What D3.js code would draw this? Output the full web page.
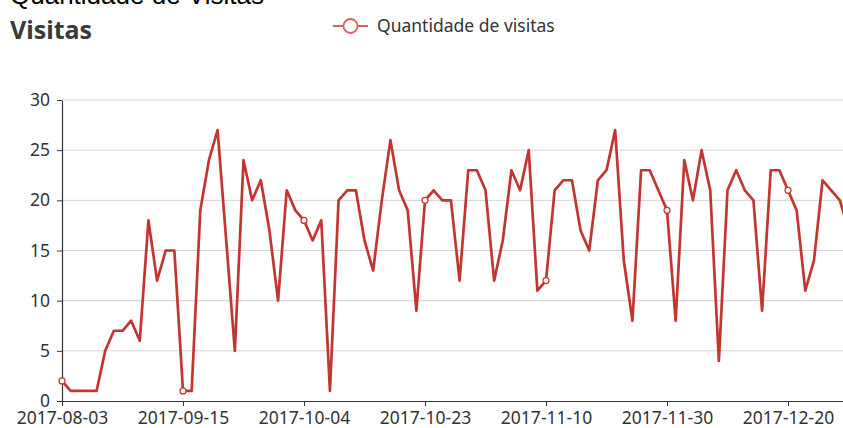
<!DOCTYPE html>
<html>
<head>
<meta charset="utf-8">
<script src="https://cdn.jsdelivr.net/npm/d3@7"></script>
<style>
  body { margin: 0; background: #fff; overflow: hidden; }
  svg { display: block; }
</style>
</head>
<body>
<div id="chart"></div>
<script>
// --- Data ---
const dates = [
  "2017-08-03","2017-08-04","2017-08-07","2017-08-09","2017-08-11","2017-08-16","2017-08-18","2017-08-22",
  "2017-08-24","2017-08-28","2017-08-30","2017-09-01","2017-09-05","2017-09-11","2017-09-15","2017-09-16",
  "2017-09-18","2017-09-19","2017-09-20","2017-09-21","2017-09-22","2017-09-23","2017-09-25","2017-09-26",
  "2017-09-27","2017-09-28","2017-09-29","2017-10-02","2017-10-04","2017-10-05","2017-10-06","2017-10-07",
  "2017-10-09","2017-10-10","2017-10-11","2017-10-12","2017-10-13","2017-10-16","2017-10-17","2017-10-18",
  "2017-10-19","2017-10-20","2017-10-23","2017-10-24","2017-10-25","2017-10-26","2017-10-27","2017-10-28",
  "2017-10-30","2017-10-31","2017-11-01","2017-11-02","2017-11-03","2017-11-06","2017-11-07","2017-11-08",
  "2017-11-10","2017-11-13","2017-11-14","2017-11-15","2017-11-16","2017-11-17","2017-11-18","2017-11-20",
  "2017-11-21","2017-11-22","2017-11-23","2017-11-24","2017-11-27","2017-11-28","2017-11-30","2017-12-01",
  "2017-12-02","2017-12-04","2017-12-05","2017-12-06","2017-12-07","2017-12-08","2017-12-11","2017-12-12",
  "2017-12-13","2017-12-14","2017-12-15","2017-12-18","2017-12-20","2017-12-21","2017-12-22","2017-12-26",
  "2017-12-27","2017-12-28","2017-12-29","2017-12-30"
];
const visitas = [
  2,1,1,1,1,5,7,7,8,6,
  18,12,15,15,1,1,19,24,27,16,
  5,24,20,22,17,10,21,19,18,16,
  18,1,20,21,21,16,13,20,26,21,
  19,9,20,21,20,20,12,23,23,21,
  12,16,23,21,25,11,12,21,22,22,
  17,15,22,23,27,14,8,23,23,21,
  19,8,24,20,25,21,4,21,23,21,
  20,9,23,23,21,19,11,14,22,21,
  20,17
];
const xTickLabels = ["2017-08-03","2017-09-15","2017-10-04","2017-10-23","2017-11-10","2017-11-30","2017-12-20"];
const yTicks = [0, 5, 10, 15, 20, 25, 30];

const pageTitle = "Quantidade de Visitas";
const chartTitle = "Visitas";
const seriesName = "Quantidade de visitas";

// --- Layout ---
const W = 843, H = 428;
const margin = {left: 62, top: 100, bottom: 27};
const step = 8.643; // category spacing; chart continues past the right edge
const lineColor = "#c23531";
const font = "'Noto Sans', sans-serif";

const svg = d3.select("#chart").append("svg")
    .attr("width", W)
    .attr("height", H);

// Scales
const x = d3.scalePoint()
    .domain(dates)
    .range([margin.left, margin.left + step * (dates.length - 1)]);

const y = d3.scaleLinear()
    .domain([0, 30])
    .range([H - margin.bottom, margin.top]);

// Titles
svg.append("text")
    .attr("x", 10).attr("y", 4)
    .style("font-family", "'Liberation Sans', Arial, sans-serif")
    .style("font-size", "26px")
    .attr("fill", "#000")
    .text(pageTitle);

svg.append("text")
    .attr("x", 10).attr("y", 39)
    .style("font-family", font)
    .style("font-size", "25px")
    .style("font-weight", "bold")
    .attr("fill", "#3a3a3a")
    .text(chartTitle);

// Legend
const legend = svg.append("g").attr("transform", "translate(333,26)");
legend.append("line")
    .attr("x1", 0).attr("x2", 35)
    .attr("stroke", "#d9605c").attr("stroke-width", 2);
legend.append("circle")
    .attr("cx", 17.5).attr("r", 7)
    .attr("fill", "#fff").attr("stroke", "#d9605c").attr("stroke-width", 1.8);
legend.append("text")
    .attr("x", 44).attr("dy", "0.35em")
    .style("font-family", font)
    .style("font-size", "17.5px")
    .attr("fill", "#333")
    .text(seriesName);

// Grid lines
svg.append("g")
  .selectAll("line")
  .data(yTicks.filter(d => d > 0))
  .enter().append("line")
    .attr("x1", margin.left).attr("x2", W)
    .attr("y1", d => y(d)).attr("y2", d => y(d))
    .attr("stroke", "#d3d3d3").attr("stroke-width", 1);

// Axes
const yAxis = d3.axisLeft(y).tickValues(yTicks).tickSizeInner(5).tickSizeOuter(0).tickPadding(7);
const gy = svg.append("g")
    .attr("transform", `translate(${margin.left},0)`)
    .call(yAxis);

const xAxis = d3.axisBottom(x).tickValues(xTickLabels).tickSizeInner(5).tickSizeOuter(0).tickPadding(6);
const gx = svg.append("g")
    .attr("transform", `translate(0,${y(0)})`)
    .call(xAxis);
gx.select(".domain").attr("d", `M${margin.left},0.5H${W}`);

[gx, gy].forEach(g => {
  g.select(".domain").attr("stroke", "#333").attr("stroke-width", 1.2);
  g.selectAll(".tick line").attr("stroke", "#333");
  g.selectAll(".tick text")
    .attr("fill", "#333")
    .style("font-family", font)
    .style("font-size", "17.5px");
});

// Line
const line = d3.line()
    .x((d, i) => x(dates[i]))
    .y(d => y(d));

svg.append("path")
    .datum(visitas)
    .attr("fill", "none")
    .attr("stroke", lineColor)
    .attr("stroke-width", 2.7)
    .attr("stroke-linejoin", "round")
    .attr("d", line);

// Symbols shown only at labelled categories
svg.append("g")
  .selectAll("circle")
  .data(dates.map((d, i) => ({d, v: visitas[i]})).filter(p => xTickLabels.includes(p.d)))
  .enter().append("circle")
    .attr("cx", p => x(p.d))
    .attr("cy", p => y(p.v))
    .attr("r", 3)
    .attr("fill", "#fff")
    .attr("stroke", lineColor)
    .attr("stroke-width", 1.2);
</script>
</body>
</html>
